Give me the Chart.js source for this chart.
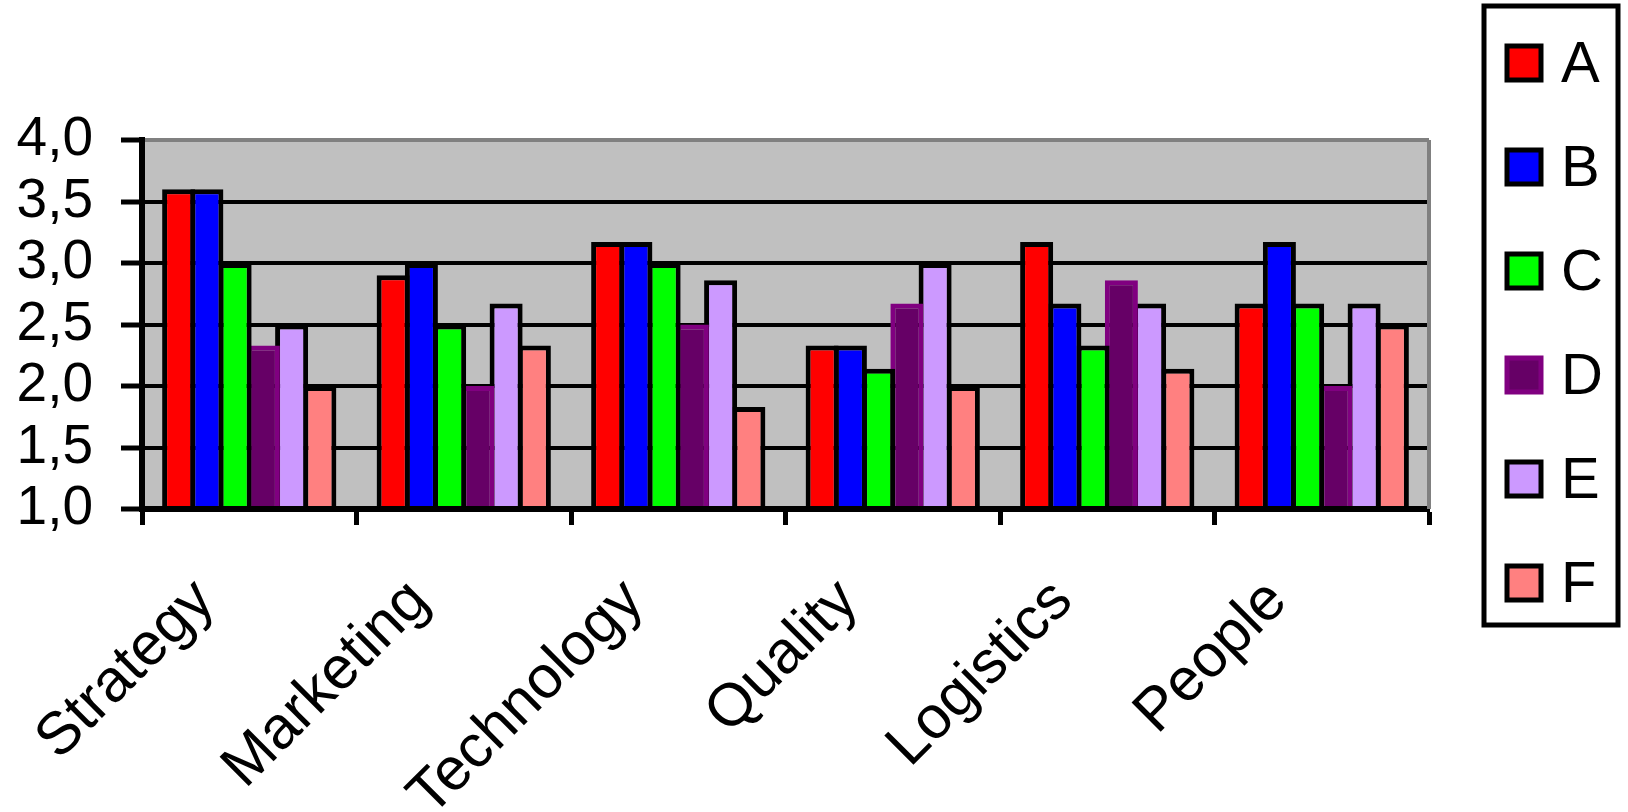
<!DOCTYPE html>
<html>
<head>
<meta charset="utf-8">
<script src="https://cdn.jsdelivr.net/npm/chart.js@4/dist/chart.umd.min.js"></script>
<style>
  html, body { margin: 0; padding: 0; background: #fff; }
  #wrap { width: 1628px; height: 812px; }
</style>
</head>
<body>
<div id="wrap"><canvas id="chart" width="1628" height="812"></canvas></div>
<script>
const categories = ['Strategy', 'Marketing', 'Technology', 'Quality', 'Logistics', 'People'];
const seriesNames = ['A', 'B', 'C', 'D', 'E', 'F'];

const valuesA = [3.6, 2.9, 3.17, 2.33, 3.17, 2.67];
const valuesB = [3.6, 3.0, 3.17, 2.33, 2.67, 3.17];
const valuesC = [3.0, 2.5, 3.0, 2.14, 2.33, 2.67];
const valuesD = [2.33, 2.0, 2.5, 2.67, 2.86, 2.0];
const valuesE = [2.5, 2.67, 2.86, 3.0, 2.67, 2.67];
const valuesF = [2.0, 2.33, 1.83, 2.0, 2.14, 2.5];

const fills = ['#FF0000', '#0000FF', '#00FF00', '#660066', '#CC99FF', '#FF8080'];
const borders = ['#000000', '#000000', '#000000', '#800080', '#000000', '#000000'];

const yTicks = [1.0, 1.5, 2.0, 2.5, 3.0, 3.5, 4.0];

const FONT = '"Liberation Sans", Arial, sans-serif';

const allValues = [valuesA, valuesB, valuesC, valuesD, valuesE, valuesF];
const datasets = seriesNames.map((name, i) => ({
    label: name,
    data: allValues[i],
    backgroundColor: fills[i],
    borderColor: borders[i],
    borderWidth: 5,
    borderSkipped: 'start',
    categoryPercentage: 0.79,
    barPercentage: 1.17
}));

// grey plot background + grey right edge
const plotBg = {
    id: 'plotBg',
    beforeDraw(chart) {
        const a = chart.chartArea;
        const ctx = chart.ctx;
        ctx.save();
        ctx.fillStyle = '#C0C0C0';
        ctx.fillRect(a.left, a.top, a.right - a.left, a.bottom - a.top);
        ctx.restore();
    },
    afterDraw(chart) {
        const a = chart.chartArea;
        const ctx = chart.ctx;
        ctx.save();
        ctx.strokeStyle = '#808080';
        ctx.lineWidth = 4;
        ctx.beginPath();
        ctx.moveTo(a.right, a.top);
        ctx.lineTo(a.right, a.bottom);
        ctx.stroke();
        ctx.restore();
    }
};

// boxed legend on the right
const boxLegend = {
    id: 'boxLegend',
    afterDraw(chart) {
        const ctx = chart.ctx;
        ctx.save();
        ctx.strokeStyle = '#000';
        ctx.lineWidth = 5;
        ctx.strokeRect(1484, 6, 134, 619);
        chart.data.datasets.forEach((ds, i) => {
            const cy = 63 + 104 * i;
            ctx.fillStyle = ds.backgroundColor;
            ctx.fillRect(1507, cy - 17, 34, 34);
            ctx.strokeStyle = ds.borderColor;
            ctx.lineWidth = 5;
            ctx.strokeRect(1507, cy - 17, 34, 34);
            ctx.fillStyle = '#000';
            ctx.font = '58px ' + FONT;
            ctx.textBaseline = 'middle';
            ctx.textAlign = 'left';
            ctx.fillText(ds.label, 1561, cy + 3);
        });
        ctx.restore();
    }
};

new Chart(document.getElementById('chart'), {
    type: 'bar',
    data: { labels: categories, datasets: datasets },
    options: {
        responsive: false,
        animation: false,
        layout: { padding: { top: 140, right: 199, left: 0, bottom: 0 } },
        plugins: {
            legend: { display: false },
            tooltip: { enabled: false }
        },
        scales: {
            x: {
                grid: {
                    offset: true,
                    drawOnChartArea: false,
                    drawTicks: true,
                    tickLength: 16,
                    tickWidth: 5,
                    tickColor: '#000'
                },
                border: { display: true, color: '#000', width: 6, z: 1 },
                ticks: {
                    color: '#000',
                    font: { size: 60, family: FONT },
                    minRotation: 45,
                    maxRotation: 45,
                    padding: 41,
                    labelOffset: -44
                },
                afterFit(scale) { scale.height = 303; }
            },
            y: {
                min: 1,
                max: 4,
                afterBuildTicks(scale) { scale.ticks = yTicks.map(v => ({ value: v })); },
                grid: {
                    color: ctx => (ctx.tick && ctx.tick.value === 4 ? '#808080' : '#000'),
                    lineWidth: 4,
                    drawTicks: true,
                    tickLength: 21,
                    tickWidth: 5,
                    tickColor: '#000'
                },
                border: { display: true, color: '#000', width: 6, z: 1 },
                ticks: {
                    color: '#000',
                    autoSkip: false,
                    font: { size: 55, family: FONT, lineHeight: 1 },
                    padding: 28,
                    callback: v => v.toFixed(1).replace('.', ',')
                },
                afterFit(scale) { scale.width = 142; }
            }
        }
    },
    plugins: [plotBg, boxLegend]
});
</script>
</body>
</html>
